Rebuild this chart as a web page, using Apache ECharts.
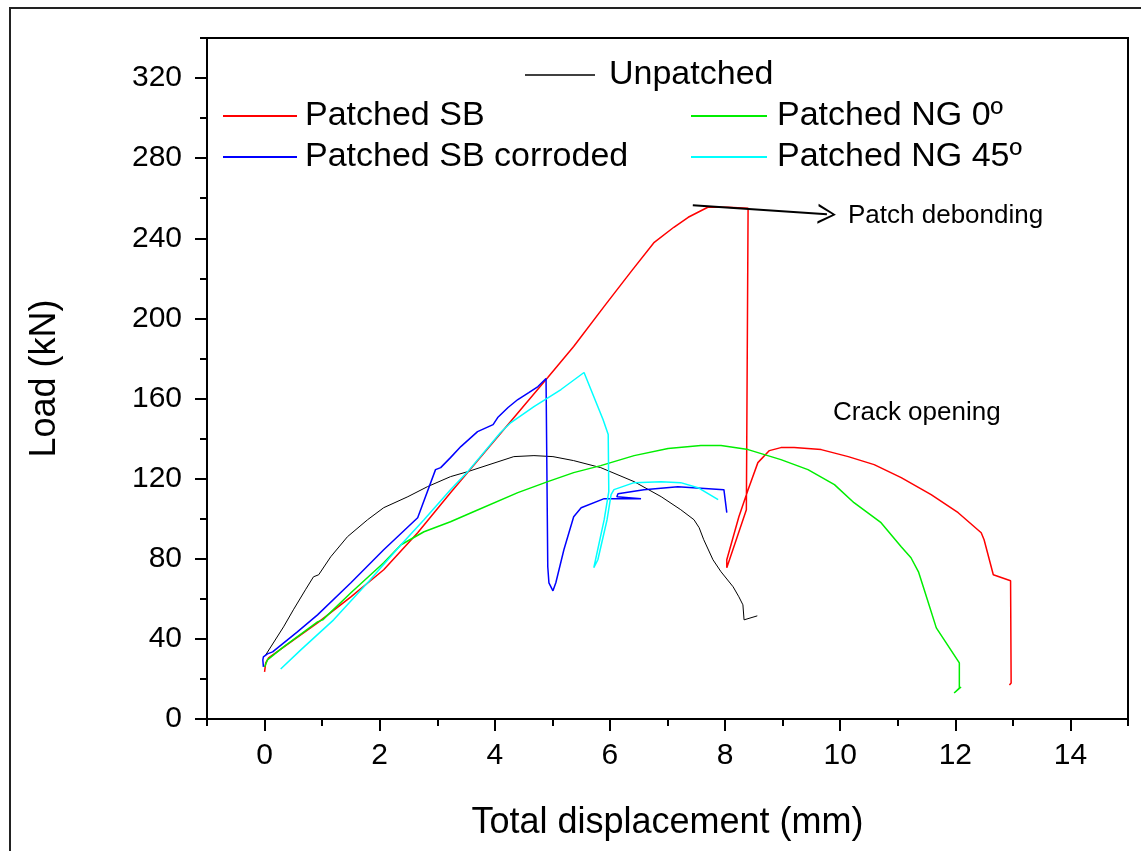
<!DOCTYPE html>
<html>
<head>
<meta charset="utf-8">
<title>Load vs displacement</title>
<script src="https://cdn.jsdelivr.net/npm/echarts@6/dist/echarts.min.js"></script>
<style>
  html, body { margin: 0; padding: 0; background: #fff; }
  #chart { width: 1141px; height: 851px; }
</style>
</head>
<body>
<div id="chart"></div>
<script>
// tick values
const xMajorTicks = [0, 2, 4, 6, 8, 10, 12, 14];
const xMinorTicks = [-1, 1, 3, 5, 7, 9, 11, 13, 15];
const yMajorTicks = [0, 40, 80, 120, 160, 200, 240, 280, 320];
const yMinorTicks = [20, 60, 100, 140, 180, 220, 260, 300, 340];

// [displacement (mm), load (kN)]
const unpatched = [
  [0.02, 32], [0.33, 46], [0.50, 54.5], [0.71, 64.5], [0.85, 71], [0.94, 72],
  [1.15, 81], [1.44, 91], [1.79, 99.5], [2.07, 105.5], [2.49, 111], [2.83, 116],
  [3.23, 121], [3.53, 123.5], [4.33, 131], [4.68, 131.5], [5.01, 131], [5.37, 129],
  [5.84, 125.5], [6.42, 118.5], [6.89, 111], [7.23, 104.5], [7.46, 99.5], [7.55, 95.5],
  [7.63, 89.5], [7.79, 79.5], [7.93, 73.5], [8.14, 66], [8.24, 61], [8.31, 57],
  [8.33, 49.5], [8.56, 51.5]
];
const patchedSB = [
  [0, 23.5], [0.02, 28], [0.07, 30.5], [0.92, 48], [1.50, 61], [2.07, 74.5],
  [2.66, 93], [3.23, 113], [4.92, 170.5], [5.37, 186], [5.90, 206], [6.37, 223.5],
  [6.77, 238], [7.11, 245.5], [7.36, 250.5], [7.53, 253], [7.70, 255.5], [8.05, 255.5],
  [8.40, 255], [8.37, 104.5], [8.03, 75.5], [8.03, 79.5], [8.24, 101], [8.40, 114.5],
  [8.57, 128], [8.77, 134], [8.97, 135.5], [9.20, 135.5], [9.67, 134.5], [10.14, 131],
  [10.59, 127], [11.06, 120.5], [11.58, 112], [12.05, 103], [12.45, 93], [12.50, 89.5],
  [12.66, 72], [12.96, 69], [12.97, 18], [12.94, 17]
];
const patchedSBCorroded = [
  [-0.02, 26], [-0.03, 29.5], [-0.02, 31], [0.05, 32.5], [0.14, 33.5], [0.57, 43.5],
  [0.92, 52], [1.50, 68], [2.07, 84.5], [2.66, 100.5], [2.68, 101], [2.97, 124.5],
  [3.06, 125.5], [3.23, 130.5], [3.41, 136], [3.70, 143.5], [3.97, 147], [4.05, 150.5],
  [4.23, 155.5], [4.40, 159.5], [4.59, 163], [4.75, 166], [4.89, 170], [4.92, 76],
  [4.94, 68], [5.01, 64], [5.06, 68], [5.20, 84.5], [5.37, 101], [5.50, 105.5],
  [5.90, 110], [6.54, 110], [6.12, 111], [6.14, 112.5], [6.59, 114.5], [7.18, 116],
  [7.98, 114.5], [8.03, 103]
];
const patchedNG0 = [
  [0, 26], [0.05, 29.5], [0.33, 36], [0.92, 48.5], [1.01, 49.5], [1.50, 63],
  [2.07, 78], [2.37, 87], [2.77, 93.5], [3.23, 98.5], [3.63, 103.5], [4.40, 113],
  [4.92, 118.5], [5.37, 123], [5.84, 126.5], [6.42, 131.5], [7.01, 135], [7.58, 136.5],
  [7.93, 136.5], [8.40, 134.5], [8.97, 129.5], [9.44, 124.5], [9.90, 117], [10.24, 108],
  [10.71, 98], [11.06, 86], [11.23, 80.5], [11.36, 73.5], [11.46, 64.5], [11.67, 45.5],
  [12.07, 28], [12.07, 15.5], [11.98, 13], [12.10, 16]
];
const patchedNG45 = [
  [0.28, 25], [0.63, 34.5], [1.20, 49.5], [1.79, 68], [2.37, 87], [2.77, 99.5],
  [3.23, 114.5], [3.53, 123.5], [4.10, 143], [4.28, 148], [4.68, 156], [5.15, 164.5],
  [5.55, 173], [5.88, 149.5], [5.97, 142], [5.98, 113.5], [5.90, 99.5], [5.72, 75.5],
  [5.79, 79.5], [5.95, 99.5], [6.02, 112], [6.07, 114.5], [6.42, 118], [6.89, 118.5],
  [7.23, 118], [7.53, 115.5], [7.88, 109.5]
];

// arrow pointing at the debonding plateau
const debondArrow = [[7.44, 256.5], [9.77, 252]];

const FONT = "'Liberation Sans', Arial, sans-serif";

const chart = echarts.init(document.getElementById('chart'));

const lineSeries = (name, data, color, width) => ({
  name: name,
  type: 'line',
  data: data,
  showSymbol: false,
  symbol: 'none',
  lineStyle: { color: color, width: width },
  itemStyle: { color: color },
  emphasis: { disabled: true },
  z: 3,
});

const legendText = { fontFamily: FONT, fontSize: 34, color: '#000', lineHeight: 40 };

chart.setOption({
  animation: false,
  textStyle: { fontFamily: FONT },
  grid: {
    left: 207, right: 13, top: 38, bottom: 132,
    show: true, borderColor: '#000', borderWidth: 2, backgroundColor: 'transparent',
  },
  legend: [
    {
      data: ['Unpatched'], left: 520, top: 50,
      icon: 'rect', itemWidth: 70, itemHeight: 1.5,
      textStyle: Object.assign({ padding: [0, 0, 0, 9] }, legendText),
      selectedMode: false,
    },
    {
      data: ['Patched SB', 'Patched SB corroded'], left: 218, top: 91, orient: 'vertical',
      icon: 'rect', itemWidth: 74, itemHeight: 2, itemGap: 1,
      textStyle: Object.assign({ padding: [0, 0, 0, 3] }, legendText),
      selectedMode: false,
    },
    {
      data: ['Patched NG 0º', 'Patched NG 45º'], left: 686, top: 91, orient: 'vertical',
      icon: 'rect', itemWidth: 76, itemHeight: 2, itemGap: 1,
      textStyle: Object.assign({ padding: [0, 0, 0, 5] }, legendText),
      selectedMode: false,
    },
  ],
  xAxis: [
    {
      type: 'value', position: 'bottom', min: -1, max: 15,
      name: 'Total displacement (mm)', nameLocation: 'middle', nameGap: 86,
      nameTextStyle: { fontSize: 36, color: '#000', fontFamily: FONT, verticalAlign: 'top' },
      splitLine: { show: false },
      axisLine: { show: true, onZero: false, lineStyle: { color: '#000', width: 2 } },
      axisTick: { show: true, customValues: xMajorTicks, length: 12, lineStyle: { color: '#000', width: 2 } },
      axisLabel: { customValues: xMajorTicks, fontSize: 30, color: '#000', margin: 22, fontFamily: FONT },
    },
    {
      type: 'value', position: 'bottom', min: -1, max: 15,
      splitLine: { show: false },
      axisLine: { show: false, onZero: false },
      axisTick: { show: true, customValues: xMinorTicks, length: 7, lineStyle: { color: '#000', width: 2 } },
      axisLabel: { show: false },
    },
  ],
  yAxis: [
    {
      type: 'value', position: 'left', min: 0, max: 340,
      name: 'Load (kN)', nameLocation: 'middle', nameGap: 144, nameRotate: 90,
      nameTextStyle: { fontSize: 36, color: '#000', fontFamily: FONT },
      splitLine: { show: false },
      axisLine: { show: true, onZero: false, lineStyle: { color: '#000', width: 2 } },
      axisTick: { show: true, customValues: yMajorTicks, length: 12, lineStyle: { color: '#000', width: 2 } },
      axisLabel: { customValues: yMajorTicks, fontSize: 30, color: '#000', margin: 25, fontFamily: FONT },
    },
    {
      type: 'value', position: 'left', min: 0, max: 340,
      splitLine: { show: false },
      axisLine: { show: false, onZero: false },
      axisTick: { show: true, customValues: yMinorTicks, length: 7, lineStyle: { color: '#000', width: 2 } },
      axisLabel: { show: false },
    },
  ],
  series: [
    lineSeries('Unpatched', unpatched, '#000000', 1),
    Object.assign(lineSeries('Patched SB', patchedSB, '#ff0000', 1.5), {
      markLine: {
        silent: true,
        symbol: ['none', 'path://M0,20 L10,0 L20,20 L17.5,20 L10,4 L2.5,20 Z'],
        symbolSize: [20, 18],
        label: { show: false },
        lineStyle: { color: '#000', width: 2, type: 'solid' },
        data: [[{ coord: debondArrow[0] }, { coord: debondArrow[1] }]],
      },
    }),
    lineSeries('Patched SB corroded', patchedSBCorroded, '#0000ff', 1.5),
    lineSeries('Patched NG 0º', patchedNG0, '#00ee00', 1.5),
    lineSeries('Patched NG 45º', patchedNG45, '#00ffff', 1.5),
  ],
  graphic: [
    {
      type: 'rect', silent: true, z: 0,
      shape: { x: 10, y: 8, width: 1150, height: 870 },
      style: { fill: null, stroke: '#222', lineWidth: 2 },
    },
    {
      type: 'text', left: 848, top: 203, silent: true,
      style: { text: 'Patch debonding', font: "26px 'Liberation Sans', Arial, sans-serif", fill: '#000' },
    },
    {
      type: 'text', left: 833, top: 400, silent: true,
      style: { text: 'Crack opening', font: "26px 'Liberation Sans', Arial, sans-serif", fill: '#000' },
    },
  ],
});
</script>
</body>
</html>
